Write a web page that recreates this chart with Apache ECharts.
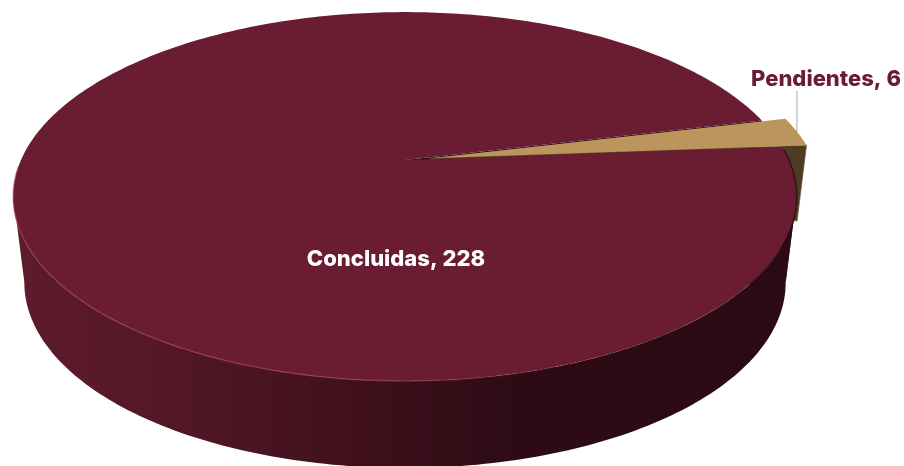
<!DOCTYPE html>
<html>
<head>
<meta charset="utf-8">
<style>html,body{margin:0;padding:0;background:#fff}#chart{width:904px;height:466px}</style>
<script src="https://cdn.jsdelivr.net/npm/echarts@6/dist/echarts.min.js"></script>
</head>
<body>
<div id="chart"></div>
<script>
// Status of the works, drawn as an extruded pie in perspective
const categories = ['Concluidas', 'Pendientes'];
const values = [228, 6];
const sliceColors = ['#691c32', '#bc955c'];
const labelColors = ['#ffffff', '#691c32'];

// Viewing model: disc radius units map to pixels through a perspective divide
const view = { cx: 405, cy: 160, a: 384, b: 177.2, k: 0.198, depth: 93.1, shrinkX: 0.028, shrinkY: 0.0757 };
const startDeg = -4.3;         // where the first slice begins, clockwise
const explode = [0, 0.067];    // outward offset of each slice, in radii
const wedgeHeight = 0.87;      // thickness of the pulled-out slice, relative to the body

const rad = d => d * Math.PI / 180;
function project(X, Y, Z) {
  const base = 1 - view.k * Y;
  return [
    view.cx + view.a * X / (base + view.shrinkX * Z),
    view.cy + (view.b * Y + view.depth * Z) / (base + view.shrinkY * Z)
  ];
}

const total = values.reduce((s, v) => s + v, 0);
let cursor = startDeg;
const slices = values.map((v, i) => {
  const from = cursor;
  const to = cursor + v / total * 360;
  cursor = to;
  const mid = rad((from + to) / 2);
  return { from, to, ox: explode[i] * Math.cos(mid), oy: explode[i] * Math.sin(mid) };
});

function rimPoint(s, deg, Z) {
  return project(s.ox + Math.cos(rad(deg)), s.oy + Math.sin(rad(deg)), Z);
}
function rim(s, from, to, Z) {
  const n = Math.max(2, Math.ceil(Math.abs(to - from)));
  const pts = [];
  for (let i = 0; i <= n; i++) pts.push(rimPoint(s, from + (to - from) * i / n, Z));
  return pts;
}
const hub = (s, Z) => project(s.ox, s.oy, Z);
const wallBand = (s, from, to) => rim(s, from, to, 0).concat(rim(s, to, from, 1));

function drawMain(s, color) {
  const wallFill = new echarts.graphic.LinearGradient(14, 0, 800, 0, [
    { offset: 0, color: '#5e1b2c' },
    { offset: 0.17, color: '#541827' },
    { offset: 0.35, color: '#471320' },
    { offset: 0.5, color: '#390f1a' },
    { offset: 0.65, color: '#2c0b14' },
    { offset: 1, color: '#2b0a13' }
  ], true);
  const farCut = [rimPoint(s, s.to, 0), hub(s, 0), hub(s, 1), rimPoint(s, s.to, 1)];
  const top = [hub(s, 0)].concat(rim(s, s.from, s.to, 0));
  const bevel = new echarts.graphic.LinearGradient(14, 0, 620, 0, [
    { offset: 0, color: 'rgba(160,60,85,0.55)' },
    { offset: 0.6, color: 'rgba(150,55,80,0.75)' },
    { offset: 1, color: 'rgba(120,40,60,0)' }
  ], true);
  return [
    { type: 'polygon', z2: 1, shape: { points: farCut }, style: { fill: '#2b0a13' } },
    // The wall is split at the horizontal extremes so the band never folds over itself
    { type: 'polygon', z2: 4, shape: { points: wallBand(s, s.from, 11) }, style: { fill: wallFill } },
    { type: 'polygon', z2: 4, shape: { points: wallBand(s, 11, 169) }, style: { fill: wallFill } },
    { type: 'polygon', z2: 5, shape: { points: top }, style: { fill: color } },
    { type: 'polyline', z2: 6, shape: { points: rim(s, 10, 178, 0) },
      style: { fill: 'none', stroke: bevel, lineWidth: 1.5 } },
    { type: 'polyline', z2: 6, shape: { points: rim(s, s.from + 1, 38, 0) },
      style: { fill: 'none', stroke: 'rgba(30,6,12,0.55)', lineWidth: 1.6 } }
  ];
}

function drawExploded(s, color) {
  const nearCut = [rimPoint(s, s.to, 0), rimPoint(s, s.to, wedgeHeight), hub(s, wedgeHeight), hub(s, 0)];
  const top = [hub(s, 0)].concat(rim(s, s.from, s.to, 0));
  const anchor = rimPoint(s, (s.from + s.to) / 2, 0);
  return [
    { type: 'polygon', z2: 2, shape: { points: nearCut },
      style: { fill: '#4d3b25', stroke: '#7a6340', lineWidth: 0.7 } },
    { type: 'polygon', z2: 3, shape: { points: top }, style: { fill: color } },
    { type: 'line', z2: 7, shape: { x1: anchor[0], y1: anchor[1], x2: anchor[0], y2: 91 },
      style: { stroke: '#a6a6a6', lineWidth: 1 } }
  ];
}

const labelFont = { fontFamily: 'Inter, "Open Sans", sans-serif', fontWeight: 800, fontSize: 22 };
const labelSpots = [[396, 259], [826, 79]];

const chart = echarts.init(document.getElementById('chart'), null, { renderer: 'canvas' });
chart.setOption({
  animation: false,
  backgroundColor: '#ffffff',
  series: [{
    type: 'custom',
    coordinateSystem: 'none',
    silent: true,
    data: categories.map((name, i) => ({ name, value: values[i] })),
    renderItem(params) {
      const i = params.dataIndex;
      const s = slices[i];
      const shapes = explode[i] ? drawExploded(s, sliceColors[i]) : drawMain(s, sliceColors[i]);
      shapes.push({
        type: 'text', z2: 10, x: labelSpots[i][0], y: labelSpots[i][1],
        style: Object.assign({
          text: categories[i] + ', ' + values[i],
          fill: labelColors[i], align: 'center', verticalAlign: 'middle'
        }, labelFont)
      });
      return { type: 'group', children: shapes };
    }
  }]
});
</script>
</body>
</html>
